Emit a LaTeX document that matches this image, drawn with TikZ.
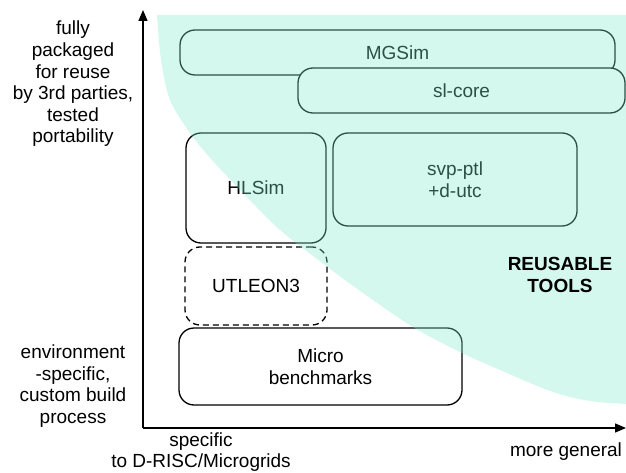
\documentclass[tikz,border=0pt]{standalone}
\usepackage{fontspec}
\setmainfont{Liberation Sans}
\usetikzlibrary{arrows.meta}
\definecolor{mintov}{RGB}{132,235,206}
\tikzset{
  box/.style={draw=black, fill=white, line width=1.3pt, rounded corners=15pt, inner sep=0pt, align=center, font=\fontsize{19}{22}\selectfont},
  lbl/.style={align=center, inner sep=0pt, font=\fontsize{19}{21.6}\selectfont},
  axis/.style={line width=1.3pt, -{Triangle[length=11pt,width=9pt]}}
}
\begin{document}
\begin{tikzpicture}[x=1pt,y=-1pt]
\useasboundingbox (0,0) rectangle (626,473);
% boxes
\node[box, minimum width=435pt, minimum height=45pt] (mgsim) at (397.5,52.5) {MGSim};
\node[box, minimum width=327pt, minimum height=45pt] (slcore) at (461.5,90.5) {sl-core};
\node[box, minimum width=140pt, minimum height=110pt] (hlsim) at (256,188) {HLSim};
\node[box, minimum width=244pt, minimum height=93pt] (svp) at (455,179.5) {svp-ptl\\+d-utc};
\node[box, dash pattern=on 6pt off 4pt, minimum width=142pt, minimum height=78pt] (utleon) at (256,286) {UTLEON3};
\node[box, minimum width=283pt, minimum height=77pt] (micro) at (320.5,366.5) {Micro\\benchmarks};
% reusable region overlay
\fill[mintov, fill opacity=0.34] (626,15) -- plot[smooth, tension=0.55] coordinates {(157,15) (161,60) (170,100) (190,133) (212,160) (245,195) (280,230) (325,265) (360,291) (413,327) (460,352) (500,370) (553,392) (590,401) (626,404)} -- cycle;
% axes
\coordinate (O) at (143,428);
\coordinate (ytop) at (143,10);
\coordinate (xend) at (626,428);
\draw[axis] (O) -- (ytop);
\draw[axis] (O) -- (xend);
% labels
\node[lbl] (ytoplbl) at (73,84) {fully\\packaged\\for reuse\\by 3rd parties,\\tested\\portability};
\node[lbl] (ybotlbl) at (73,386) {environment\\-specific,\\custom build\\process};
\node[lbl] (xleftlbl) at (201,452) {specific\\to D-RISC/Microgrids};
\node[lbl] (xrightlbl) at (566,452) {more general};
\node[lbl, font=\fontsize{19}{22}\selectfont\bfseries] (reuse) at (560,275) {REUSABLE\\TOOLS};
\end{tikzpicture}
\end{document}
